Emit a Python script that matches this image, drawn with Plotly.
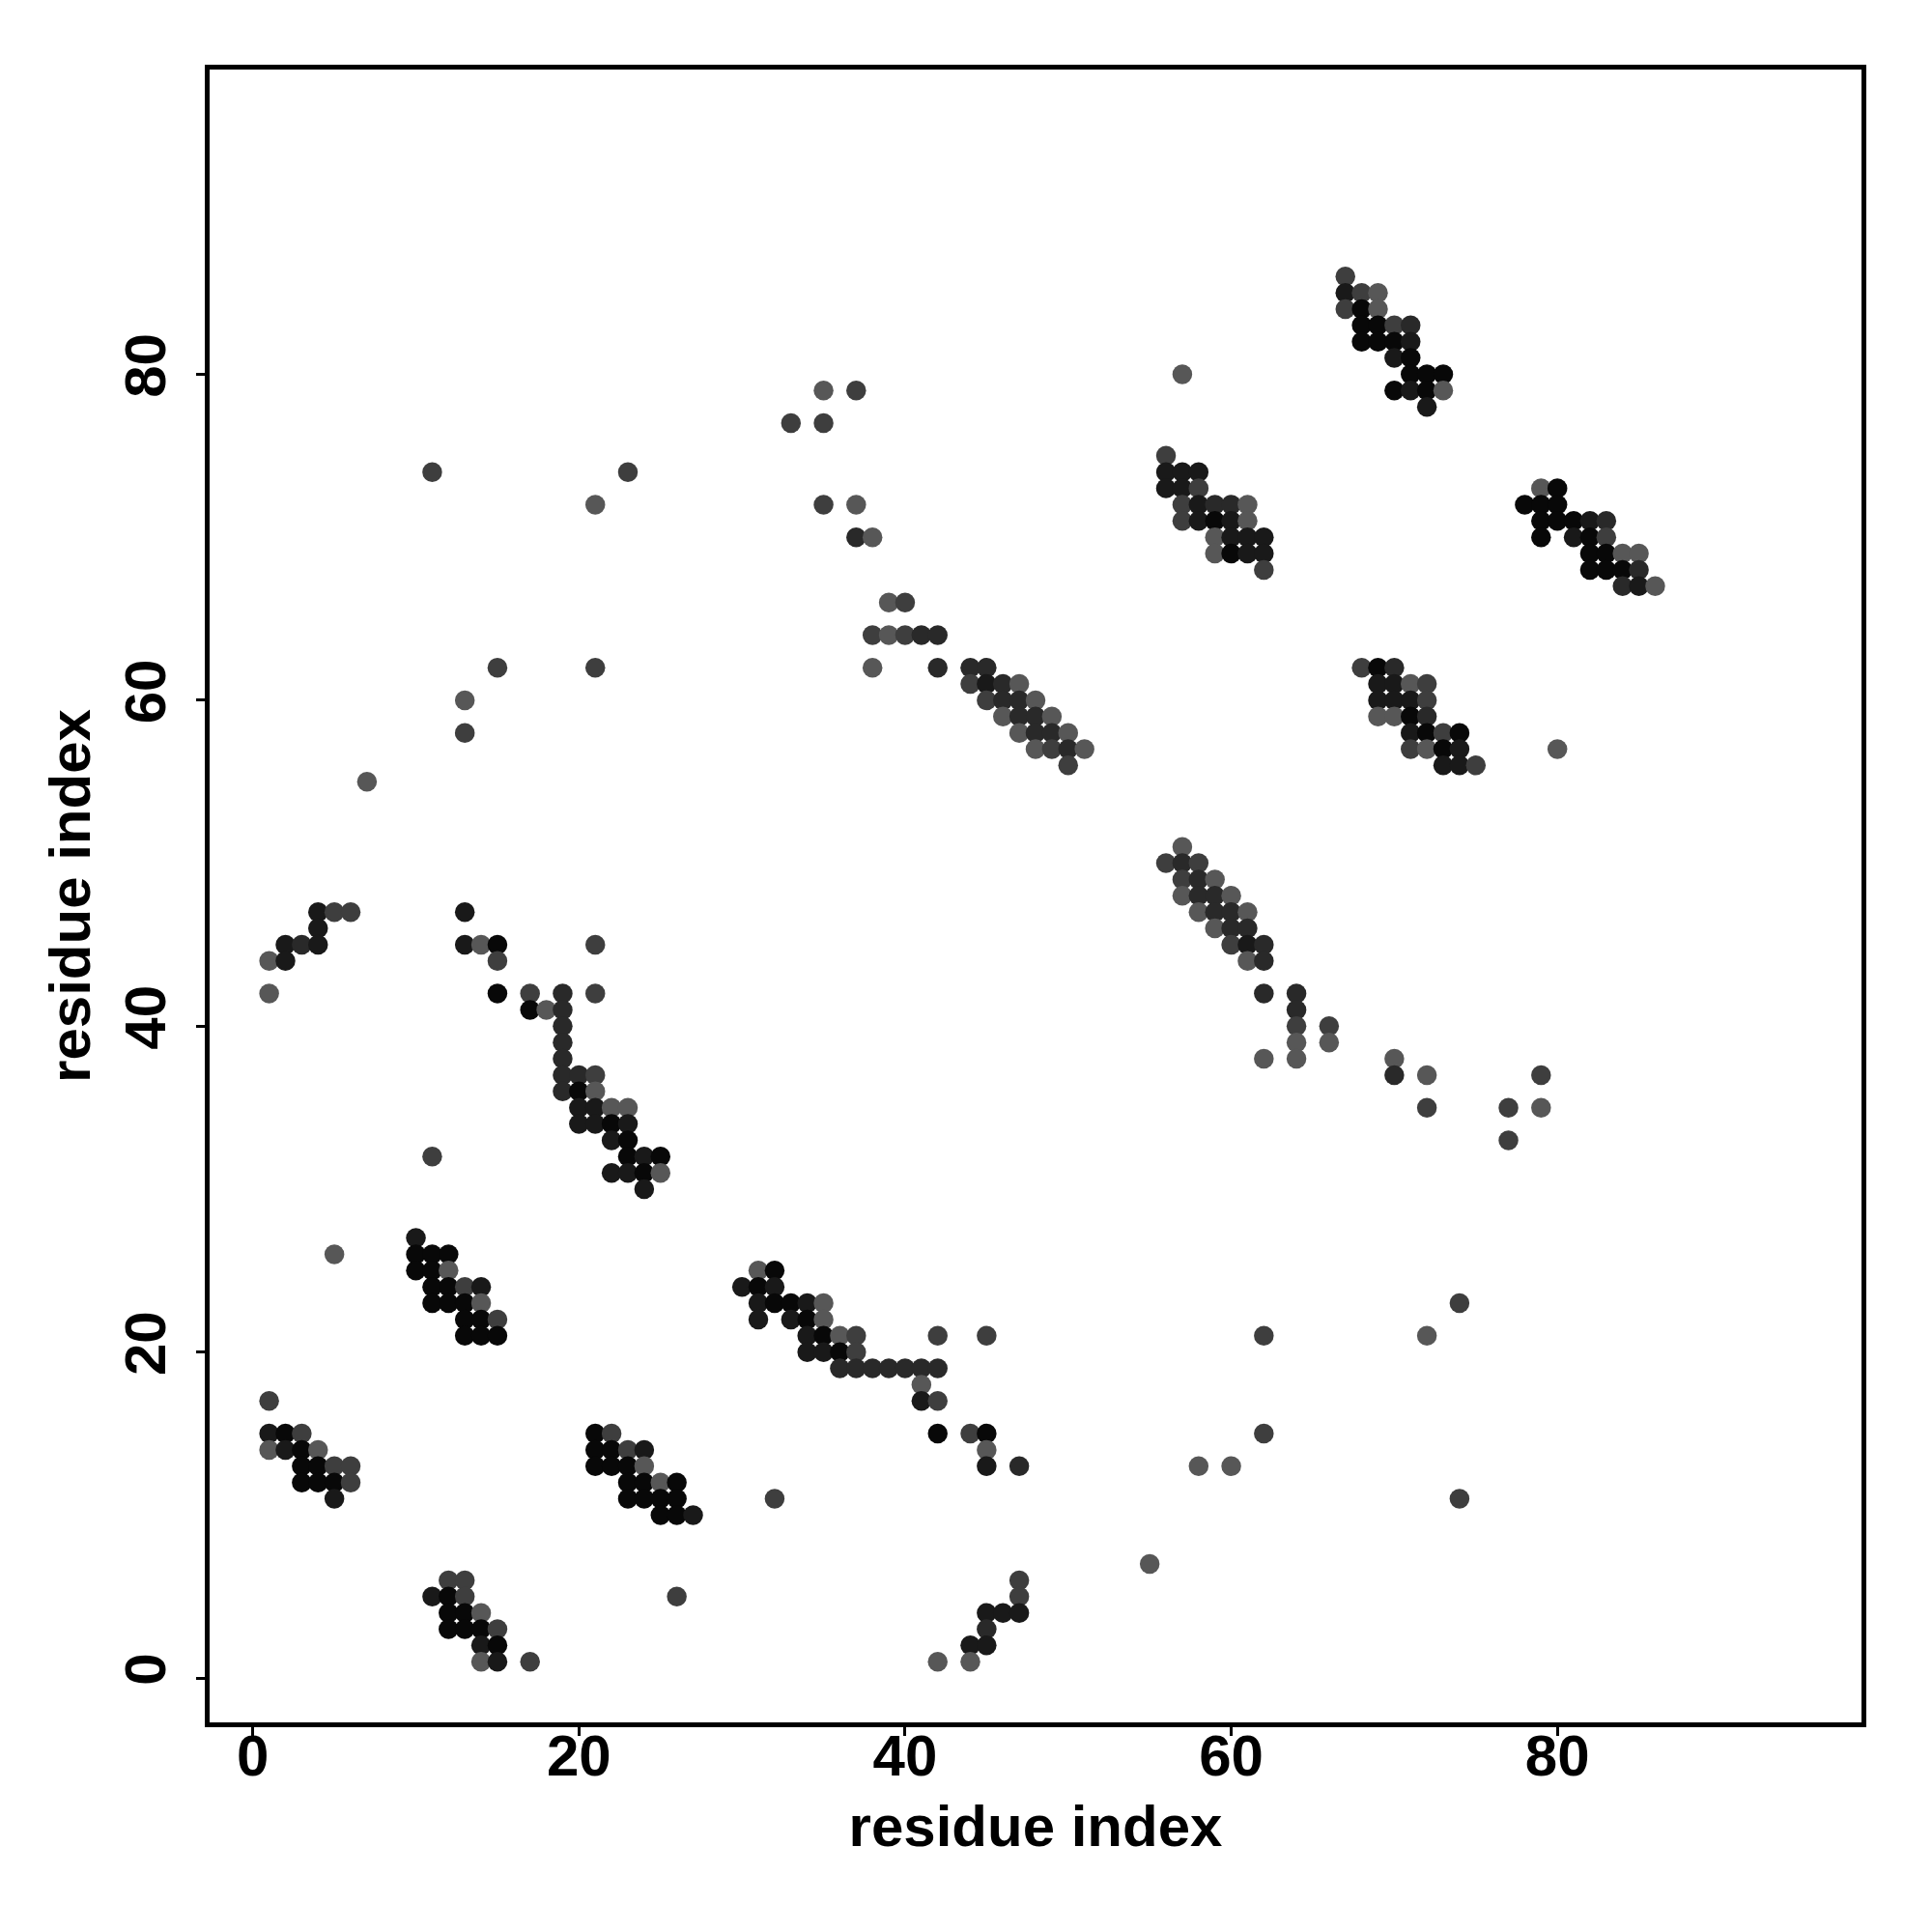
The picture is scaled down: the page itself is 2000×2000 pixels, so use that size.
import plotly.graph_objects as go

# contact map: residue i (x), residue j (y), contact probability (gray level)
res_x = [
    5, 10, 10, 11, 12, 10, 11, 12, 11, 12, 13, 14, 11, 12, 13, 14, 13, 14, 15, 13, 14, 15,
    1, 1, 2, 3, 1, 2, 3, 4, 3, 4, 5, 6, 3, 4, 5, 6, 5,
    21, 22, 21, 22, 23, 24, 21, 22, 23, 24, 23, 24, 25, 26, 23, 24, 25, 26, 25, 26, 27,
    12, 13, 11, 12, 13, 12, 13, 14, 12, 13, 14, 15, 14, 15, 14, 15, 17, 26,
    31, 32, 30, 31, 32, 31, 32, 33, 34, 35, 31, 33, 34, 35,
    34, 35, 36, 37, 42, 45, 34, 35, 36, 37,
    36, 37, 38, 39, 40, 41, 42, 41, 41, 42, 42, 44, 45, 45, 45, 47, 58, 60,
    32, 55, 47, 47, 45, 46, 47, 45, 44, 45, 42, 44,
    74, 62, 72, 62, 74,
    13, 13, 7, 15, 21, 11, 23, 21,
    4, 5, 6, 13, 4, 2, 3, 4, 13, 14, 15, 21, 1, 2, 15,
    1, 15, 17, 19, 21, 17, 18, 19, 19, 19, 19, 19, 20, 21, 19, 20, 21,
    20, 21, 22, 23, 20, 21, 22, 23, 22, 23, 11, 23, 24, 25, 22, 23, 24, 25, 24,
    57, 56, 57, 58, 57, 58, 59, 57, 58, 59, 60, 58, 59, 60, 61, 59, 60, 61,
    60, 61, 62, 61, 62, 62, 64, 64, 64, 66, 64, 66, 62, 64, 70, 70, 72, 79,
    72, 77, 79, 77,
    57, 35, 37, 33, 35, 35, 37, 37, 38, 39, 40,
    38, 39, 40, 41, 42, 38, 42, 44, 45, 44, 45, 46, 47, 45, 46, 47, 48,
    46, 47, 48, 49, 47, 48, 49, 50, 48, 49, 50, 51, 50,
    56, 56, 57, 58, 56, 57, 58, 57, 58, 59, 60, 61, 57, 58, 59, 60, 61,
    59, 60, 61, 62, 59, 60, 61, 62, 62,
    67, 67, 68, 69, 67, 68, 69, 68, 69, 70, 71, 68, 69, 70, 71, 70, 71,
    71, 72, 73, 70, 71, 72, 73, 72,
    79, 80, 78, 79, 80, 79, 80, 81, 82, 83, 79, 81, 82, 83,
    82, 83, 84, 85, 82, 83, 84, 85, 84, 85, 86,
    68, 69, 70, 69, 70, 71, 72, 69, 70, 71, 72, 69, 70, 71, 72,
    71, 72, 73, 74, 71, 72, 73, 74, 80, 73, 74, 75,
]
res_y = [
    26, 27, 26, 26, 26, 25, 25, 25, 24, 24, 24, 24, 23, 23, 23, 23, 22, 22, 22, 21, 21, 21,
    17, 15, 15, 15, 14, 14, 14, 14, 13, 13, 13, 13, 12, 12, 12, 12, 11,
    15, 15, 14, 14, 14, 14, 13, 13, 13, 13, 12, 12, 12, 12, 11, 11, 11, 11, 10, 10, 10,
    6, 6, 5, 5, 5, 4, 4, 4, 3, 3, 3, 3, 2, 2, 1, 1, 1, 5,
    25, 25, 24, 24, 24, 23, 23, 23, 23, 23, 22, 22, 22, 22,
    21, 21, 21, 21, 21, 21, 20, 20, 20, 20,
    19, 19, 19, 19, 19, 19, 19, 18, 17, 17, 15, 15, 15, 14, 13, 13, 13, 13,
    11, 7, 6, 5, 4, 4, 4, 3, 2, 2, 1, 1,
    23, 21, 21, 15, 11,
    60, 58, 55, 62, 62, 74, 74, 72,
    47, 47, 47, 47, 46, 45, 45, 45, 45, 45, 45, 45, 44, 44, 44,
    42, 42, 42, 42, 42, 41, 41, 41, 40, 39, 38, 37, 37, 37, 36, 36, 36,
    35, 35, 35, 35, 34, 34, 34, 34, 33, 33, 32, 32, 32, 32, 31, 31, 31, 31, 30,
    51, 50, 50, 50, 49, 49, 49, 48, 48, 48, 48, 47, 47, 47, 47, 46, 46, 46,
    45, 45, 45, 44, 44, 42, 42, 41, 40, 40, 39, 39, 38, 38, 38, 37, 37, 37,
    35, 35, 35, 33,
    80, 79, 79, 77, 77, 72, 72, 70, 70, 66, 66,
    64, 64, 64, 64, 64, 62, 62, 62, 62, 61, 61, 61, 61, 60, 60, 60, 60,
    59, 59, 59, 59, 58, 58, 58, 58, 57, 57, 57, 57, 56,
    75, 74, 74, 74, 73, 73, 73, 72, 72, 72, 72, 72, 71, 71, 71, 71, 71,
    70, 70, 70, 70, 69, 69, 69, 69, 68,
    86, 85, 85, 85, 84, 84, 84, 83, 83, 83, 83, 82, 82, 82, 82, 81, 81,
    80, 80, 80, 79, 79, 79, 79, 78,
    73, 73, 72, 72, 72, 71, 71, 71, 71, 71, 70, 70, 70, 70,
    69, 69, 69, 69, 68, 68, 68, 68, 67, 67, 67,
    62, 62, 62, 61, 61, 61, 61, 60, 60, 60, 60, 59, 59, 59, 59,
    58, 58, 58, 58, 57, 57, 57, 57, 57, 56, 56, 56,
]
contact_prob = [
    0.60, 0.90, 0.98, 0.98, 0.98, 0.98, 0.98, 0.60, 0.98, 0.98, 0.72, 0.90, 0.98, 0.98, 0.98, 0.60, 0.98, 0.98, 0.72, 0.98, 0.98, 0.98,
    0.72, 0.90, 0.98, 0.72, 0.60, 0.90, 0.98, 0.60, 0.98, 0.98, 0.72, 0.72, 0.98, 0.98, 0.98, 0.72, 0.90,
    0.98, 0.72, 0.98, 0.98, 0.72, 0.90, 0.98, 0.98, 0.98, 0.60, 0.98, 0.98, 0.60, 0.98, 0.98, 0.98, 0.98, 0.98, 0.98, 0.98, 0.90,
    0.72, 0.72, 0.90, 0.98, 0.72, 0.98, 0.98, 0.60, 0.98, 0.98, 0.98, 0.72, 0.90, 0.98, 0.60, 0.90, 0.72, 0.72,
    0.60, 0.98, 0.90, 0.98, 0.90, 0.90, 0.98, 0.98, 0.90, 0.60, 0.90, 0.90, 0.98, 0.60,
    0.90, 0.98, 0.60, 0.72, 0.72, 0.72, 0.90, 0.90, 0.98, 0.72,
    0.82, 0.82, 0.82, 0.82, 0.82, 0.82, 0.82, 0.60, 0.90, 0.72, 0.98, 0.72, 0.98, 0.60, 0.90, 0.82, 0.60, 0.60,
    0.72, 0.60, 0.72, 0.72, 0.90, 0.90, 0.90, 0.82, 0.90, 0.90, 0.60, 0.60,
    0.72, 0.72, 0.60, 0.72, 0.72,
    0.60, 0.72, 0.60, 0.72, 0.72, 0.72, 0.72, 0.60,
    0.90, 0.72, 0.72, 0.90, 0.90, 0.90, 0.82, 0.90, 0.90, 0.60, 0.98, 0.72, 0.60, 0.90, 0.72,
    0.60, 0.98, 0.72, 0.82, 0.72, 0.98, 0.60, 0.82, 0.82, 0.82, 0.82, 0.82, 0.82, 0.72, 0.82, 0.98, 0.60,
    0.90, 0.90, 0.60, 0.60, 0.90, 0.90, 0.98, 0.90, 0.90, 0.98, 0.72, 0.98, 0.90, 0.98, 0.90, 0.90, 0.98, 0.60, 0.90,
    0.60, 0.72, 0.82, 0.72, 0.72, 0.82, 0.60, 0.60, 0.82, 0.82, 0.60, 0.60, 0.82, 0.82, 0.60, 0.60, 0.82, 0.82,
    0.72, 0.90, 0.82, 0.60, 0.82, 0.82, 0.82, 0.82, 0.72, 0.72, 0.60, 0.60, 0.60, 0.60, 0.60, 0.82, 0.60, 0.72,
    0.72, 0.72, 0.60, 0.72,
    0.60, 0.60, 0.72, 0.72, 0.72, 0.72, 0.60, 0.82, 0.60, 0.60, 0.72,
    0.72, 0.60, 0.72, 0.82, 0.82, 0.60, 0.82, 0.82, 0.82, 0.72, 0.90, 0.82, 0.60, 0.72, 0.82, 0.82, 0.60,
    0.60, 0.82, 0.82, 0.60, 0.60, 0.82, 0.82, 0.60, 0.60, 0.72, 0.82, 0.60, 0.72,
    0.72, 0.90, 0.90, 0.90, 0.90, 0.90, 0.72, 0.72, 0.90, 0.82, 0.82, 0.60, 0.72, 0.90, 0.98, 0.90, 0.60,
    0.60, 0.90, 0.90, 0.90, 0.60, 0.98, 0.90, 0.90, 0.72,
    0.72, 0.90, 0.72, 0.60, 0.72, 0.98, 0.60, 0.98, 0.98, 0.72, 0.82, 0.98, 0.98, 0.98, 0.90, 0.90, 0.98,
    0.98, 0.98, 0.98, 0.98, 0.90, 0.98, 0.60, 0.90,
    0.60, 0.98, 0.98, 0.98, 0.98, 0.98, 0.98, 0.98, 0.90, 0.82, 0.98, 0.90, 0.98, 0.72,
    0.98, 0.98, 0.60, 0.60, 0.98, 0.98, 0.98, 0.82, 0.82, 0.90, 0.60,
    0.72, 0.98, 0.82, 0.90, 0.90, 0.60, 0.72, 0.90, 0.90, 0.90, 0.72, 0.60, 0.60, 0.98, 0.82,
    0.90, 0.98, 0.72, 0.98, 0.72, 0.60, 0.98, 0.90, 0.60, 0.90, 0.90, 0.72,
]

x_ticks = [0, 20, 40, 60, 80]
y_ticks = [0, 20, 40, 60, 80]
axis_title = "residue index"

font_family = "Liberation Sans, Arial, Helvetica, sans-serif"

fig = go.Figure(
    go.Scatter(
        x=res_x,
        y=res_y,
        mode="markers",
        marker=dict(
            size=20.5,
            color=contact_prob,
            colorscale=[[0, "#575757"], [1, "#080808"]],
            cmin=0.60,
            cmax=0.98,
            line=dict(width=0),
            opacity=1,
        ),
        showlegend=False,
        hoverinfo="x+y",
    )
)

axis_common = dict(
    showgrid=False,
    zeroline=False,
    showline=True,
    mirror=True,
    linecolor="black",
    linewidth=5,
    ticks="outside",
    ticklen=9,
    tickwidth=3,
    tickcolor="black",
    tickfont=dict(family=font_family, size=60, color="black", weight="bold"),
)

fig.update_layout(
    width=2000,
    height=2000,
    margin=dict(l=209, r=81, t=64, b=225),
    paper_bgcolor="white",
    plot_bgcolor="white",
    xaxis=dict(
        range=[-2.65, 98.65],
        tickvals=x_ticks,
        ticktext=[str(v) for v in x_ticks],
        ticklabelstandoff=-31,
        title=dict(text=axis_title, standoff=20,
                   font=dict(family=font_family, size=60, color="black", weight="bold")),
        **axis_common,
    ),
    yaxis=dict(
        range=[-2.72, 98.7],
        tickvals=y_ticks,
        ticktext=[str(v) for v in y_ticks],
        tickangle=-90,
        ticklabelstandoff=8,
        title=dict(text=axis_title, standoff=6,
                   font=dict(family=font_family, size=60, color="black", weight="bold")),
        **axis_common,
    ),
)

fig.write_html("out.html")
